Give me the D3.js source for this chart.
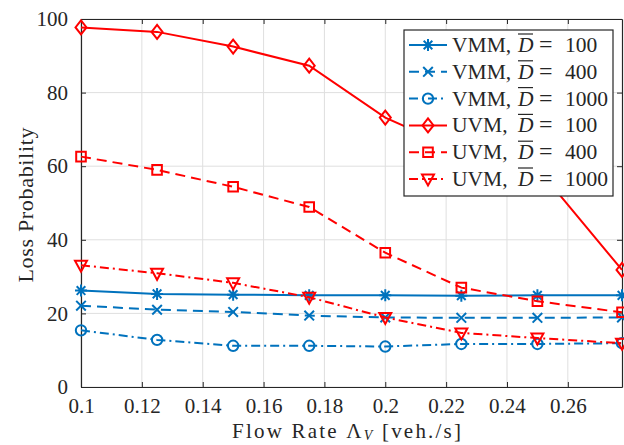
<!DOCTYPE html>
<html><head><meta charset="utf-8">
<script src="https://cdn.jsdelivr.net/npm/d3@7"></script>
<style>body{margin:0;background:#fff}svg{display:block}text{font-family:"Liberation Serif",serif;fill:#262626}</style>
</head><body><svg id="c" width="624" height="445"></svg>
<script>
const flowRates = [0.1, 0.125, 0.15, 0.175, 0.2, 0.225, 0.25, 0.2778];
const vmm100  = [26.2, 25.3, 25.1, 24.9, 24.9, 24.8, 24.9, 24.9];
const vmm400  = [22.1, 21.0, 20.4, 19.4, 18.9, 18.8, 18.8, 18.9];
const vmm1000 = [15.4, 12.8, 11.2, 11.2, 11.0, 11.7, 11.7, 11.9];
const uvm100  = [97.7, 96.5, 92.5, 87.3, 73.2, 64.0, 59.5, 31.8];
const uvm400  = [62.6, 59.0, 54.4, 48.9, 36.5, 27.0, 23.3, 20.3];
const uvm1000 = [33.1, 30.9, 28.3, 24.4, 18.9, 14.7, 13.3, 11.9];
const xTicks = [0.1, 0.12, 0.14, 0.16, 0.18, 0.2, 0.22, 0.24, 0.26];
const yTicks = [0, 20, 40, 60, 80, 100];
const seriesNames = ["VMM", "VMM", "VMM", "UVM", "UVM", "UVM"];
const seriesD = ["100", "400", "1000", "100", "400", "1000"];

const BLUE = "#0072BD", RED = "#FF0000";
const series = [
  {name: seriesNames[0], d: seriesD[0], v: vmm100, color: BLUE, dash: null, marker: "star"},
  {name: seriesNames[1], d: seriesD[1], v: vmm400, color: BLUE, dash: "10,6", marker: "x"},
  {name: seriesNames[2], d: seriesD[2], v: vmm1000, color: BLUE, dash: "9,4,2,4", marker: "circle"},
  {name: seriesNames[3], d: seriesD[3], v: uvm100, color: RED, dash: null, marker: "diamond"},
  {name: seriesNames[4], d: seriesD[4], v: uvm400, color: RED, dash: "10,6", marker: "square"},
  {name: seriesNames[5], d: seriesD[5], v: uvm1000, color: RED, dash: "9,4,2,4", marker: "tri"}
];

const svg = d3.select("#c");
const L = 81, R = 622, T = 19, B = 387;
const x = d3.scaleLinear().domain([0.1, 0.2778]).range([L, R]);
const y = d3.scaleLinear().domain([0, 100]).range([B, T]);
const AX = "#262626";

// grid
const g = svg.append("g");
g.selectAll(".gx").data(xTicks).enter().append("line")
  .attr("x1", d => x(d)).attr("x2", d => x(d)).attr("y1", T).attr("y2", B)
  .attr("stroke", "#dfdfdf").attr("stroke-width", 1);
g.selectAll(".gy").data(yTicks).enter().append("line")
  .attr("x1", L).attr("x2", R).attr("y1", d => y(d)).attr("y2", d => y(d))
  .attr("stroke", "#dfdfdf").attr("stroke-width", 1);

// axes
const xAxB = d3.axisBottom(x).tickValues(xTicks).tickSizeInner(-5).tickSizeOuter(0).tickPadding(11).tickFormat(d3.format(""));
const xAxT = d3.axisTop(x).tickValues(xTicks).tickSizeInner(-5).tickSizeOuter(0).tickFormat("");
const yAxL = d3.axisLeft(y).tickValues(yTicks).tickSizeInner(-5).tickSizeOuter(0).tickPadding(13);
const yAxR = d3.axisRight(y).tickValues(yTicks).tickSizeInner(-5).tickSizeOuter(0).tickFormat("");
function styleAx(sel){
  sel.selectAll("path").attr("stroke", AX).attr("stroke-width", 1.2);
  sel.selectAll("line").attr("stroke", AX).attr("stroke-width", 1);
  sel.selectAll("text").attr("font-family", "Liberation Serif").attr("font-size", 21).attr("fill", AX);
}
svg.append("g").attr("transform", `translate(0,${B})`).call(xAxB).call(styleAx);
svg.append("g").attr("transform", `translate(0,${T})`).call(xAxT).call(styleAx);
svg.append("g").attr("transform", `translate(${L},0)`).call(yAxL).call(styleAx);
svg.append("g").attr("transform", `translate(${R},0)`).call(yAxR).call(styleAx);

// markers
function marker(sel, type, color){
  const s = 6;
  let p;
  if (type === "star") p = `M${-s},0H${s}M0,${-s}V${s}M${-s*0.72},${-s*0.72}L${s*0.72},${s*0.72}M${-s*0.72},${s*0.72}L${s*0.72},${-s*0.72}`;
  else if (type === "x") p = `M${-s*0.8},${-s*0.8}L${s*0.8},${s*0.8}M${-s*0.8},${s*0.8}L${s*0.8},${-s*0.8}`;
  else if (type === "diamond") p = `M0,${-7}L${5.5},0L0,${7}L${-5.5},0Z`;
  else if (type === "square") p = `M-4.8,-4.8H4.8V4.8H-4.8Z`;
  else if (type === "tri") p = `M-6,-4.5H6L0,6.5Z`;
  if (type === "circle") {
    sel.append("circle").attr("r", 5.2).attr("fill", "none").attr("stroke", color).attr("stroke-width", 2);
  } else {
    sel.append("path").attr("d", p).attr("fill", "none").attr("stroke", color).attr("stroke-width", 2).attr("stroke-linejoin", "miter");
  }
}

const line = d3.line().x((d, i) => x(flowRates[i])).y(d => y(d));
series.forEach(s => {
  svg.append("path").attr("d", line(s.v)).attr("fill", "none").attr("stroke", s.color)
    .attr("stroke-width", 2).attr("stroke-dasharray", s.dash);
  s.v.forEach((v, i) => {
    const m = svg.append("g").attr("transform", `translate(${x(flowRates[i])},${y(v)})`);
    marker(m, s.marker, s.color);
  });
});

// legend
const lg = svg.append("g");
lg.append("rect").attr("x", 404).attr("y", 30).attr("width", 209).attr("height", 166)
  .attr("fill", "#fff").attr("stroke", AX).attr("stroke-width", 1.2);
series.forEach((s, i) => {
  const ly = 45 + i * 26.8;
  const e = lg.append("g");
  e.append("line").attr("x1", 409).attr("x2", 447).attr("y1", ly).attr("y2", ly)
    .attr("stroke", s.color).attr("stroke-width", 2).attr("stroke-dasharray", s.dash);
  marker(e.append("g").attr("transform", `translate(428,${ly})`), s.marker, s.color);
  const by = ly + 7;
  e.append("text").attr("x", 452).attr("y", by).attr("font-size", 21.5).text(s.name + ",");
  e.append("text").attr("x", 518).attr("y", by).attr("font-size", 21.5).attr("font-style", "italic").text("D");
  e.append("line").attr("x1", 518).attr("x2", 533).attr("y1", by - 18).attr("y2", by - 18)
    .attr("stroke", AX).attr("stroke-width", 1.2);
  e.append("text").attr("x", 539).attr("y", by).attr("font-size", 24).text("=");
  e.append("text").attr("x", 565).attr("y", by).attr("font-size", 21.5).text(s.d);
});

// axis labels
const xl = svg.append("text").attr("x", 232).attr("y", 438).attr("font-size", 21)
  .attr("textLength", 229).attr("lengthAdjust", "spacing");
xl.append("tspan").text("Flow Rate ");
xl.append("tspan").text("Λ");
xl.append("tspan").attr("font-style", "italic").attr("font-size", 14).attr("dy", 2).text("V");
xl.append("tspan").attr("dy", -2).text(" [veh./s]");

svg.append("text").attr("transform", "translate(33,205) rotate(-90)").attr("text-anchor", "middle")
  .attr("font-size", 22).attr("textLength", 155).attr("lengthAdjust", "spacing").text("Loss Probability");
</script></body></html>
